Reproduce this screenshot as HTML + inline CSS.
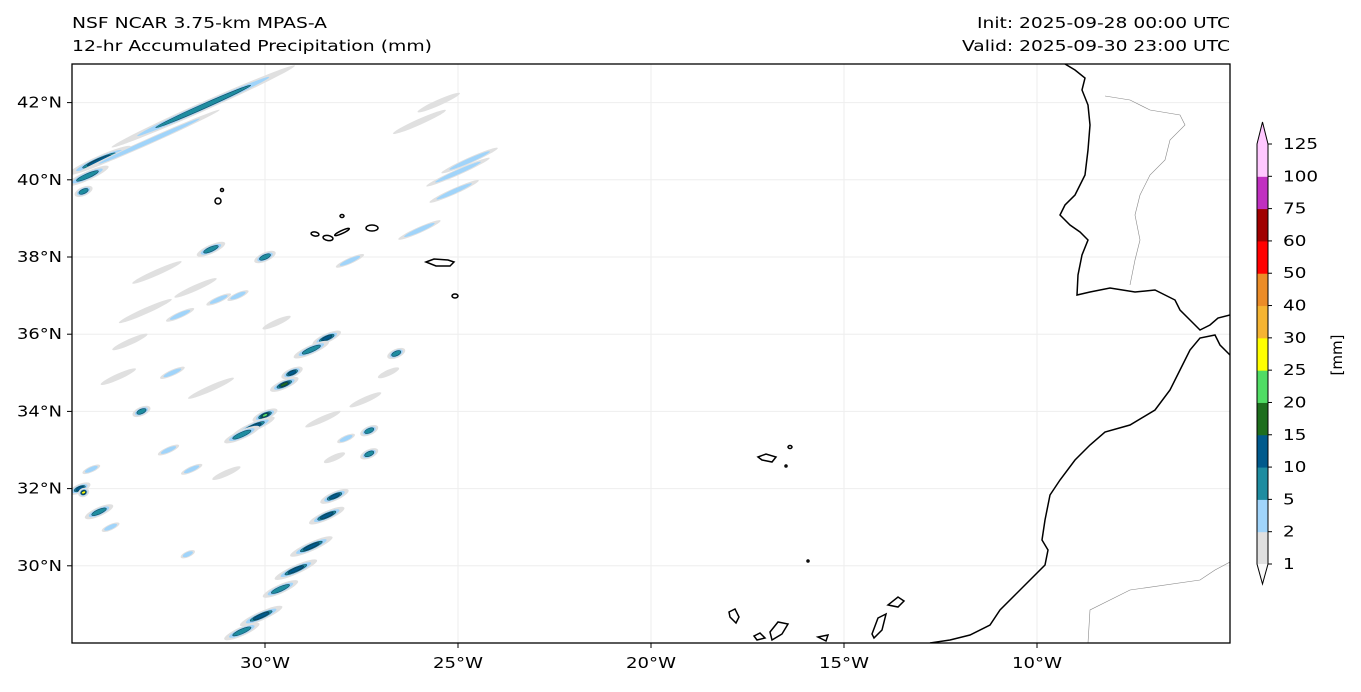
<!DOCTYPE html>
<html><head><meta charset="utf-8"><style>
body{margin:0;background:#fff;font-family:"Liberation Sans",sans-serif;}
svg text{font-family:"DejaVu Sans","Liberation Sans",sans-serif;fill:#000;}
</style></head><body>
<svg id="chart" width="1361" height="687" viewBox="0 0 1361 687">
<text x="72" y="28" font-size="15" textLength="255" lengthAdjust="spacingAndGlyphs">NSF NCAR 3.75-km MPAS-A</text>
<text x="72" y="51" font-size="15" textLength="360" lengthAdjust="spacingAndGlyphs">12-hr Accumulated Precipitation (mm)</text>
<text x="977" y="28" font-size="15" textLength="253" lengthAdjust="spacingAndGlyphs">Init: 2025-09-28 00:00 UTC</text>
<text x="962" y="51" font-size="15" textLength="268" lengthAdjust="spacingAndGlyphs">Valid: 2025-09-30 23:00 UTC</text>
<defs><clipPath id="mapclip"><rect x="72" y="64" width="1158" height="579"/></clipPath></defs>
<g id="grid"></g>
<g id="blobs" clip-path="url(#mapclip)"></g>
<g id="land" clip-path="url(#mapclip)"></g>
<rect x="72" y="64" width="1158" height="579" fill="none" stroke="#000" stroke-width="1.3"/>
<g id="axes"></g>
<g id="cbar"></g>
<text transform="translate(1342,355) rotate(-90)" font-size="15" text-anchor="middle">[mm]</text>
</svg>
<script>
const NS="http://www.w3.org/2000/svg";
const lonTicks=[-30,-25,-20,-15,-10];
const latTicks=[30,32,34,36,38,40,42];
const levels=[1,2,5,10,15,20,25,30,40,50,60,75,100,125];
const levelColors=["#e0e0e0","#a0d4fa","#1e8ca0","#005a8c","#1e6e1e","#50dc64","#ffff00","#f5b432","#eb8c28","#ff0000","#a00000","#c030c0","#ffc8ff"];
// precipitation cells: lon, lat, value (mm), length (deg)
const cellLon=[-31.6,-34.3,-33.0,-25.5,-26.0,-25.0,-24.7,-25.1,-26.0,-27.8,-30.0,-30.3,-30.6,-29.5,-29.3,-28.4,-28.8,-28.2,-28.4,-28.8,-29.2,-29.6,-30.1,-30.6,-34.8,-34.7,-34.3,-34.5,-32.2,-31.2,-31.4,-30.0,-33.2,-32.5,-27.3,-27.3,-26.6,-33.1,-31.8,-33.5,-32.4,-31.4,-28.5,-27.4,-28.2,-31.9,-34.0,-4.6,-32.8,-30.7,-29.7,-26.8,-27.9,-33.8,-31.0,-32.0,-34.6,-34.7];
const cellLat=[41.9,40.5,41.0,42.0,41.5,40.2,40.5,39.7,38.7,37.9,33.9,33.6,33.4,34.7,35.0,35.9,35.6,31.8,31.3,30.5,29.9,29.4,28.7,28.3,32.0,31.9,31.4,32.5,36.5,36.9,38.2,38.0,34.0,33.0,33.5,32.9,35.5,36.6,37.2,35.8,35.0,34.6,33.8,34.3,32.8,32.5,31.0,31.6,37.6,37.0,36.3,35.0,33.3,34.9,32.4,30.3,40.1,39.7];
const cellVal=[7,12,3,1.5,1.5,3,3,3,3,3,22,12,7,15,10,10,7,10,10,10,10,7,10,7,12,25,7,3,3,3,7,7,7,3,7,7,7,1.5,1.5,1.5,3,1.5,1.5,1.5,1.5,3,3,3,1.5,3,1.5,1.5,3,1.5,1.5,3,7,7];
const cellLen=[5.2,1.8,4.0,1.2,1.5,1.8,1.6,1.4,1.2,0.8,0.7,1.2,1.0,0.8,0.6,0.8,1.0,0.8,1.0,1.2,1.2,1.0,1.2,1.0,0.6,0.3,0.8,0.5,0.8,0.7,0.8,0.6,0.5,0.6,0.5,0.5,0.5,1.5,1.2,1.0,0.7,1.3,1.0,0.9,0.6,0.6,0.5,0.2,1.4,0.6,0.8,0.6,0.5,1.0,0.8,0.4,1.2,0.5];
const X=lon=>72+(lon+35)*38.6;
const Y=lat=>64+(43-lat)*38.6;
function mk(tag,attrs,parent){const e=document.createElementNS(NS,tag);for(const k in attrs)e.setAttribute(k,attrs[k]);parent.appendChild(e);return e;}
const grid=document.getElementById('grid'),axes=document.getElementById('axes');
lonTicks.forEach(l=>{
 const gl=mk('line',{x1:X(l),x2:X(l),y1:64,y2:643,stroke:'#eeeeee','stroke-width':1},grid);
 
 
 const tk=mk('line',{x1:X(l),x2:X(l),y1:643,y2:648,stroke:'#000'},axes);
 
 
 const t=mk('text',{x:X(l),y:668,'font-size':15,'text-anchor':'middle',textLength:50,lengthAdjust:'spacingAndGlyphs'},axes);t.textContent=(-l)+'°W';
 
 
});
latTicks.forEach(l=>{
 const gl=mk('line',{x1:72,x2:1230,y1:Y(l),y2:Y(l),stroke:'#eeeeee','stroke-width':1},grid);
 
 
 const tk=mk('line',{x1:67,x2:72,y1:Y(l),y2:Y(l),stroke:'#000'},axes);
 
 
 const t=mk('text',{x:17,y:Y(l)+5,'font-size':15,textLength:45,lengthAdjust:'spacingAndGlyphs'},axes);t.textContent=l+'°N';
 
 
});
// precip cells
const blobs=document.getElementById('blobs');
cellLon.forEach((lon,i)=>{
 const v=cellVal[i],cx=X(lon),cy=Y(cellLat[i]),L=cellLen[i]*38.6/2;
 const g=mk('g',{transform:`translate(${cx},${cy}) rotate(-24)`},blobs);
 
 
 let k=0;
 for(let j=0;j<levelColors.length;j++){ if(v>=levels[j]){
   const s=Math.pow(0.72,k);
   mk('ellipse',{cx:0,cy:0,rx:Math.max(L*s,2),ry:Math.max((v>5?4.5:3)*s,1.2),fill:levelColors[j],stroke:j>=2?'#0a3a50':'none','stroke-width':j>=2?0.5:0},g);k++;}}
});
// coastlines (pixel outlines of geography)
const land=document.getElementById('land');
const coasts=[
"M1065,64 L1075,70 1085,78 1082,90 1088,105 1090,125 1088,150 1085,175 1075,195 1065,205 1060,215 1070,225 1080,232 1088,240 1082,255 1078,275 1077,295 1090,292 1110,288 1135,292 1155,290 1165,295 1175,300 1180,310 1190,320 1200,330 1210,325 1218,318 1230,315",
"M1230,355 L1220,345 1215,335 1200,338 1190,350 1180,370 1170,390 1155,410 1130,425 1105,432 1090,445 1075,460 1060,480 1050,495 1045,520 1042,540 1048,550 1045,565 1030,580 1015,595 1000,610 990,625 970,635 950,640 930,643",
"M758,457 l8,-3 10,3 -4,5 -10,-2z","M729,612 l6,-3 4,8 -3,6 -6,-6z","M754,636 l6,-3 5,5 -8,2z","M770,632 l8,-10 10,2 -6,10 -10,6z","M818,637 l10,-2 -2,6z","M872,634 l6,-16 8,-4 -4,16 -8,8z","M888,605 l10,-8 6,4 -6,6z","M426,262 l8,-3 14,1 6,2 -4,4 -14,0z"];
coasts.forEach(d=>{const p=mk('path',{d:d,fill:'none',stroke:'#000','stroke-width':1.5},land);
 
 });
[[218,201,3,3,0],[222,190,1.5,1.5,0],[315,234,4,2,10],[328,238,5,2.5,10],[342,232,8,1.5,-25],[342,216,2,1.5,0],[372,228,6,3,0],[455,296,3,2,0],[790,447,2,1.5,0],[786,466,1,1,0],[808,561,1,1,0]].forEach(e=>{
 const p=mk('ellipse',{cx:e[0],cy:e[1],rx:e[2],ry:e[3],transform:`rotate(${e[4]} ${e[0]} ${e[1]})`,fill:'none',stroke:'#000','stroke-width':1.5},land);
 
 });
["M1105,96 L1130,100 1150,110 1180,115 1185,125 1170,140 1165,160 1150,175 1140,195 1135,215 1140,240 1135,260 1130,285","M1088,643 L1090,610 1130,590 1200,580 1215,570 1230,562"].forEach(d=>{
 const p=mk('path',{d:d,fill:'none',stroke:'#888','stroke-width':0.6},land);
 
 });
// colorbar
const cb=document.getElementById('cbar');
const cbX=1257,cbW=11,cbTop=144,cbBot=564,n=levels.length-1,step=(cbBot-cbTop)/n;
const CY=i=>cbBot-i*step;
for(let i=0;i<n;i++){
 const r=mk('rect',{x:cbX,y:CY(i+1),width:cbW,height:step+0.5,fill:levelColors[i]},cb);
 
 
}
mk('path',{d:`M${cbX},${cbTop} L${cbX+cbW/2},${cbTop-22} L${cbX+cbW},${cbTop}Z`,fill:levelColors[n-1]},cb);
mk('path',{d:`M${cbX},${cbBot} L${cbX+cbW/2},${cbBot+20} L${cbX+cbW},${cbBot}Z`,fill:'#fafafa'},cb);
mk('path',{d:`M${cbX},${cbTop} L${cbX+cbW/2},${cbTop-22} L${cbX+cbW},${cbTop} L${cbX+cbW},${cbBot} L${cbX+cbW/2},${cbBot+20} L${cbX},${cbBot}Z`,fill:'none',stroke:'#000','stroke-width':1},cb);
levels.forEach((lv,i)=>{
 mk('line',{x1:cbX+cbW,x2:cbX+cbW+4,y1:CY(i),y2:CY(i),stroke:'#000'},cb);
 const t=mk('text',{x:1283,y:CY(i)+5,'font-size':15,textLength:String(lv).length*11.7,lengthAdjust:'spacingAndGlyphs'},cb);t.textContent=lv;
 
 
});
</script>
</body></html>
